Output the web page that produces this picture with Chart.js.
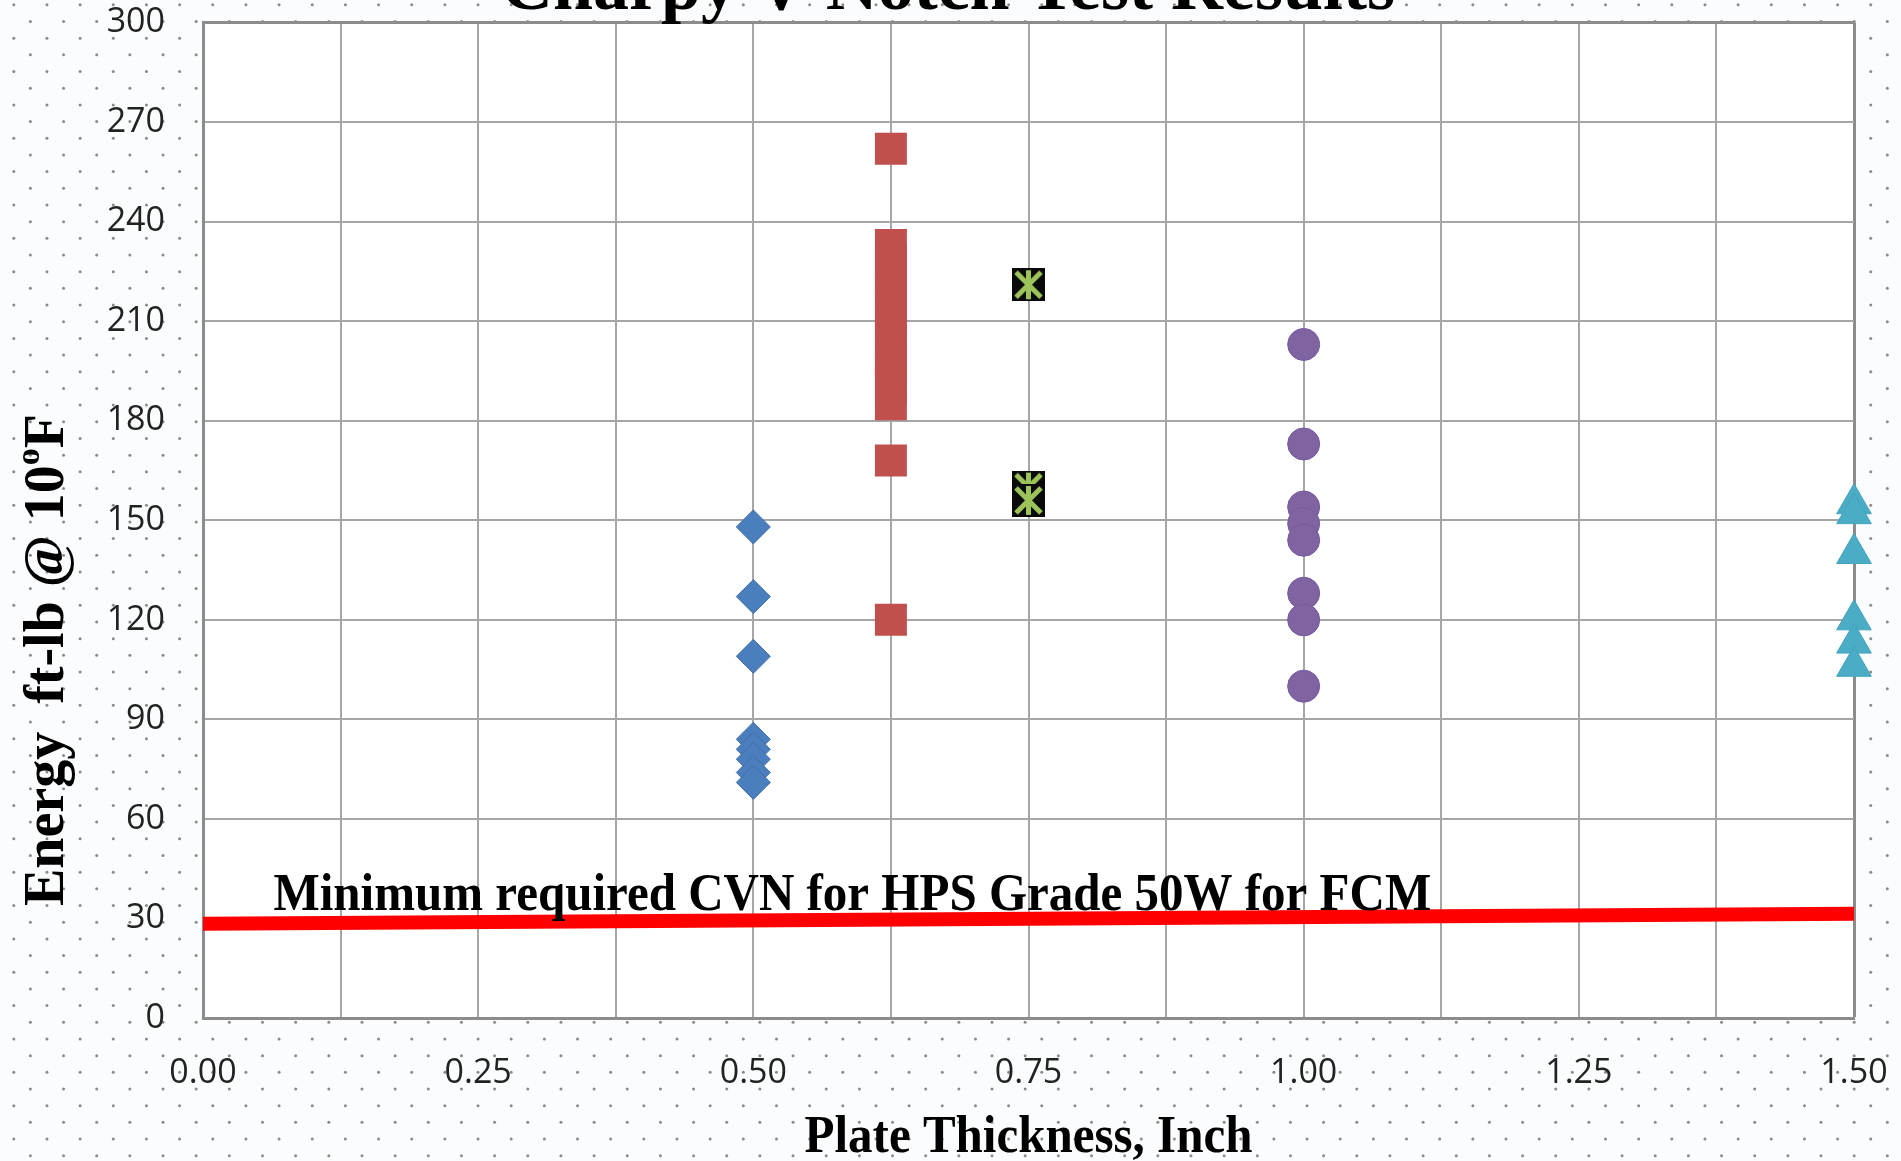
<!DOCTYPE html>
<html>
<head>
<meta charset="utf-8">
<title>Charpy V-Notch Test Results</title>
<script src="https://cdn.jsdelivr.net/npm/chart.js@4.4.1/dist/chart.umd.min.js"></script>
<style>
  html, body { margin: 0; padding: 0; background: #fafcfd; }
  #chart { display: block; }
</style>
</head>
<body>
<canvas id="chart" width="1901" height="1161"></canvas>
<script>
// plate thickness (inch) of each specimen group
const plateThickness = [0.5, 0.625, 0.75, 1.0, 1.5];

// CVN energy, ft-lb @ 10°F
const energy050 = [148, 127, 109, 84, 81, 78, 74, 71];
const energy0625 = [262, 233, 228, 223, 219, 214, 209, 204, 199, 195, 190, 185, 168, 120];
const energy075 = [221, 160, 156];
const energy100 = [203, 173, 154, 149, 144, 128, 120, 100];
const energy150 = [155, 152, 140, 120, 113, 106];

// minimum required CVN line (a bit tilted in the original)
const minCvnX = [0, 1.5];
const minCvnY = [28.4, 31.4];

const xTickLabels = ['0.00', '0.25', '0.50', '0.75', '1.00', '1.25', '1.50'];
const yTickLabels = ['0', '30', '60', '90', '120', '150', '180', '210', '240', '270', '300'];

const serif = '"Liberation Serif", "Times New Roman", serif';
const sans = '"Open Sans", "Noto Sans", sans-serif';

const pts = (x, ys) => ys.map(y => ({ x: x, y: y }));

// black square with a green star, like the Excel marker
function starMarker(size) {
  const c = document.createElement('canvas');
  c.width = size; c.height = size;
  const g = c.getContext('2d');
  g.fillStyle = '#0a0a0a';
  g.fillRect(0, 0, size, size);
  g.strokeStyle = '#9cc45a';
  g.lineWidth = 5;
  g.beginPath();
  g.moveTo(4, 4); g.lineTo(size - 4, size - 4);
  g.moveTo(size - 4, 4); g.lineTo(4, size - 4);
  g.moveTo(size / 2, 2); g.lineTo(size / 2, size - 2);
  g.stroke();
  return c;
}

const backgroundPlugin = {
  id: 'dottedBackground',
  beforeDraw(chart) {
    const { ctx, width, height, chartArea } = chart;
    ctx.save();
    ctx.fillStyle = '#fafcfd';
    ctx.fillRect(0, 0, width, height);
    ctx.fillStyle = '#8a8a8a';
    const dx = 33.16, dy = 16.68;
    for (let row = 0; row * dy < height + dy; row++) {
      const y = 4.8 + row * dy;
      const off = row % 2 ? dx / 2 : 0;
      for (let x = 13.8 + off - dx; x < width + dx; x += dx) {
        ctx.beginPath();
        ctx.arc(x, y, 1.5, 0, Math.PI * 2);
        ctx.fill();
      }
    }
    ctx.fillStyle = '#ffffff';
    ctx.fillRect(chartArea.left, chartArea.top,
      chartArea.right - chartArea.left, chartArea.bottom - chartArea.top);
    ctx.restore();
  }
};

const textPlugin = {
  id: 'chartTexts',
  afterDraw(chart) {
    const { ctx, chartArea, scales } = chart;
    ctx.save();
    ctx.fillStyle = '#000';
    ctx.textBaseline = 'alphabetic';

    // title, cut off at the top edge as in the picture
    ctx.font = 'bold 72px ' + serif;
    ctx.textAlign = 'center';
    ctx.fillText('Charpy V-Notch Test Results', 948, 9);

    // x axis title
    ctx.font = 'bold 49px ' + serif;
    ctx.save();
    ctx.translate((chartArea.left + chartArea.right) / 2, 1152);
    ctx.scale(1, 1.08);
    ctx.fillText('Plate Thickness, Inch', 0, 0);
    ctx.restore();

    // annotation over the min CVN line
    ctx.textAlign = 'left';
    ctx.save();
    ctx.translate(scales.x.getPixelForValue(0.064), scales.y.getPixelForValue(32.5));
    ctx.scale(1, 1.08);
    ctx.fillText('Minimum required CVN for HPS Grade 50W for FCM', 0, 0);
    ctx.restore();

    // y axis title with superscript degree
    ctx.save();
    ctx.translate(63, 660);
    ctx.rotate(-Math.PI / 2);
    const parts = [
      { t: 'Energy  ft-lb @ 10', size: 56, rise: 0 },
      { t: 'o', size: 34, rise: -24 },
      { t: 'F', size: 56, rise: 0 }
    ];
    let total = 0;
    parts.forEach(p => {
      ctx.font = 'bold ' + p.size + 'px ' + serif;
      p.w = ctx.measureText(p.t).width;
      total += p.w;
    });
    let x = -total / 2;
    parts.forEach(p => {
      ctx.font = 'bold ' + p.size + 'px ' + serif;
      ctx.fillText(p.t, x, p.rise);
      x += p.w;
    });
    ctx.restore();

    ctx.restore();
  }
};

new Chart(document.getElementById('chart'), {
  type: 'scatter',
  data: {
    datasets: [
      {
        data: pts(plateThickness[0], energy050),
        pointStyle: 'rectRot', pointRadius: 17,
        backgroundColor: '#4a7ebd', borderColor: '#3f70ac', borderWidth: 1
      },
      {
        data: pts(plateThickness[1], energy0625),
        pointStyle: 'rect', pointRadius: 22.6,
        backgroundColor: '#c0504d', borderColor: '#c0504d', borderWidth: 0
      },
      {
        data: pts(plateThickness[2], energy075),
        pointStyle: starMarker(33)
      },
      {
        data: pts(plateThickness[3], energy100),
        pointStyle: 'circle', pointRadius: 16,
        backgroundColor: '#8064a2', borderColor: '#7558a0', borderWidth: 1
      },
      {
        data: pts(plateThickness[4], energy150),
        pointStyle: 'triangle', pointRadius: 20,
        backgroundColor: '#4bacc6', borderColor: '#42a3bd', borderWidth: 1
      },
      {
        data: minCvnX.map((x, i) => ({ x: x, y: minCvnY[i] })),
        showLine: true, pointRadius: 0,
        borderColor: '#ff0000', borderWidth: 14, borderCapStyle: 'butt'
      }
    ]
  },
  options: {
    responsive: false,
    animation: false,
    layout: { padding: { left: 0, right: 47, top: 22, bottom: 0 } },
    elements: { point: { hoverRadius: 0 } },
    datasets: { scatter: { clip: false } },
    plugins: { legend: { display: false }, tooltip: { enabled: false } },
    scales: {
      x: {
        type: 'linear', min: 0, max: 1.5,
        afterFit: s => { s.height = 143; s.paddingLeft = 0; s.paddingRight = 0; },
        ticks: {
          stepSize: 0.125, autoSkip: false, maxRotation: 0, padding: 35,
          color: '#222', font: { family: sans, size: 34 },
          callback: v => {
            const k = v / 0.25;
            return Math.abs(k - Math.round(k)) < 1e-6 ? xTickLabels[Math.round(k)] : '';
          }
        },
        grid: {
          drawTicks: false,
          color: c => c.index === 12 ? '#8c8c8c' : '#a6a6a6',
          lineWidth: c => c.index === 12 ? 3 : 2
        },
        border: { color: '#8c8c8c', width: 3 }
      },
      y: {
        min: 0, max: 300,
        afterFit: s => { s.width = 203; s.paddingTop = 0; s.paddingBottom = 0; },
        ticks: {
          stepSize: 30, padding: 38,
          color: '#222', font: { family: sans, size: 34 },
          callback: v => yTickLabels[Math.round(v / 30)]
        },
        grid: {
          drawTicks: false,
          color: c => c.index === 10 ? '#8c8c8c' : '#a6a6a6',
          lineWidth: c => c.index === 10 ? 3 : 2
        },
        border: { color: '#8c8c8c', width: 3 }
      }
    }
  },
  plugins: [backgroundPlugin, textPlugin]
});
</script>
</body>
</html>
